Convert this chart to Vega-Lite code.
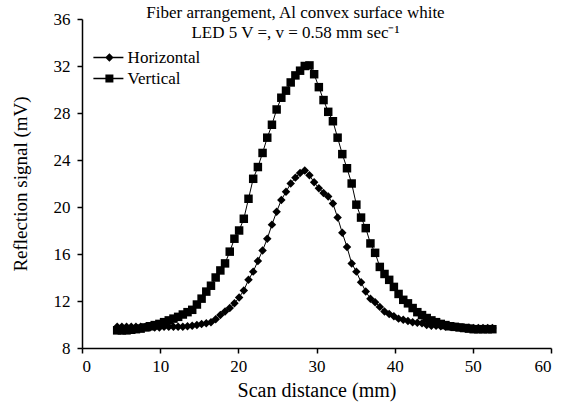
{
  "$schema": "https://vega.github.io/schema/vega-lite/v6.json",
  "width": 469,
  "height": 329,
  "autosize": {"type": "none"},
  "padding": {"left": 82, "top": 19, "right": 17, "bottom": 58},
  "background": "white",
  "config": {
    "view": {"stroke": null},
    "font": "Liberation Serif",
    "style": {
      "guide-label": {"font": "Liberation Serif"},
      "guide-title": {"font": "Liberation Serif"}
    },
    "legend": {"labelFont": "Liberation Serif"},
    "axis": {
      "grid": false,
      "domainColor": "black",
      "domainWidth": 1.5,
      "tickColor": "black",
      "tickWidth": 1.5,
      "tickSize": 5,
      "labelColor": "black",
      "labelFont": "Liberation Serif",
      "labelFontSize": 17,
      "titleColor": "black",
      "titleFont": "Liberation Serif",
      "titleFontWeight": "normal"
    }
  },
  "title": {
    "text": ["Fiber arrangement, Al convex surface white", "LED 5 V =, v = 0.58 mm sec⁻¹"],
    "anchor": "middle",
    "orient": "top",
    "offset": -32,
    "dx": -21,
    "font": "Liberation Serif",
    "fontSize": 17,
    "fontWeight": "normal",
    "color": "black",
    "lineHeight": 20
  },
  "datasets": {
    "scan": [
      {"series": "Horizontal", "x": 4.5, "y": 9.8},
      {"series": "Horizontal", "x": 5.1, "y": 9.8},
      {"series": "Horizontal", "x": 5.7, "y": 9.8},
      {"series": "Horizontal", "x": 6.3, "y": 9.8},
      {"series": "Horizontal", "x": 6.9, "y": 9.8},
      {"series": "Horizontal", "x": 7.5, "y": 9.8},
      {"series": "Horizontal", "x": 8.1, "y": 9.8},
      {"series": "Horizontal", "x": 8.7, "y": 9.75},
      {"series": "Horizontal", "x": 9.3, "y": 9.75},
      {"series": "Horizontal", "x": 9.9, "y": 9.75},
      {"series": "Horizontal", "x": 10.5, "y": 9.8},
      {"series": "Horizontal", "x": 11.1, "y": 9.8},
      {"series": "Horizontal", "x": 11.7, "y": 9.8},
      {"series": "Horizontal", "x": 12.3, "y": 9.8},
      {"series": "Horizontal", "x": 12.9, "y": 9.8},
      {"series": "Horizontal", "x": 13.5, "y": 9.85},
      {"series": "Horizontal", "x": 14.1, "y": 9.9},
      {"series": "Horizontal", "x": 14.7, "y": 9.95},
      {"series": "Horizontal", "x": 15.3, "y": 10.05},
      {"series": "Horizontal", "x": 15.9, "y": 10.1},
      {"series": "Horizontal", "x": 16.5, "y": 10.2},
      {"series": "Horizontal", "x": 17.1, "y": 10.45},
      {"series": "Horizontal", "x": 17.7, "y": 10.8},
      {"series": "Horizontal", "x": 18.3, "y": 11.1},
      {"series": "Horizontal", "x": 18.9, "y": 11.4},
      {"series": "Horizontal", "x": 19.5, "y": 11.8},
      {"series": "Horizontal", "x": 20.1, "y": 12.3},
      {"series": "Horizontal", "x": 20.7, "y": 12.9},
      {"series": "Horizontal", "x": 21.3, "y": 13.8},
      {"series": "Horizontal", "x": 21.9, "y": 14.5},
      {"series": "Horizontal", "x": 22.5, "y": 15.4},
      {"series": "Horizontal", "x": 23.1, "y": 16.3},
      {"series": "Horizontal", "x": 23.7, "y": 17.3},
      {"series": "Horizontal", "x": 24.3, "y": 18.5},
      {"series": "Horizontal", "x": 24.9, "y": 19.6},
      {"series": "Horizontal", "x": 25.5, "y": 20.6},
      {"series": "Horizontal", "x": 26.1, "y": 21.3},
      {"series": "Horizontal", "x": 26.7, "y": 22.0},
      {"series": "Horizontal", "x": 27.3, "y": 22.5},
      {"series": "Horizontal", "x": 27.9, "y": 22.9},
      {"series": "Horizontal", "x": 28.5, "y": 23.1},
      {"series": "Horizontal", "x": 29.1, "y": 22.7},
      {"series": "Horizontal", "x": 29.7, "y": 22.1},
      {"series": "Horizontal", "x": 30.3, "y": 21.6},
      {"series": "Horizontal", "x": 30.9, "y": 21.2},
      {"series": "Horizontal", "x": 31.5, "y": 20.9},
      {"series": "Horizontal", "x": 32.1, "y": 20.3},
      {"series": "Horizontal", "x": 32.7, "y": 19.1},
      {"series": "Horizontal", "x": 33.3, "y": 17.8},
      {"series": "Horizontal", "x": 33.9, "y": 16.6},
      {"series": "Horizontal", "x": 34.5, "y": 15.2},
      {"series": "Horizontal", "x": 35.1, "y": 14.5},
      {"series": "Horizontal", "x": 35.7, "y": 13.6},
      {"series": "Horizontal", "x": 36.3, "y": 12.8},
      {"series": "Horizontal", "x": 36.9, "y": 12.2},
      {"series": "Horizontal", "x": 37.5, "y": 11.9},
      {"series": "Horizontal", "x": 38.1, "y": 11.5},
      {"series": "Horizontal", "x": 38.7, "y": 11.1},
      {"series": "Horizontal", "x": 39.3, "y": 10.9},
      {"series": "Horizontal", "x": 39.9, "y": 10.7},
      {"series": "Horizontal", "x": 40.5, "y": 10.5},
      {"series": "Horizontal", "x": 41.1, "y": 10.4},
      {"series": "Horizontal", "x": 41.7, "y": 10.3},
      {"series": "Horizontal", "x": 42.3, "y": 10.2},
      {"series": "Horizontal", "x": 42.9, "y": 10.15},
      {"series": "Horizontal", "x": 43.5, "y": 10.1},
      {"series": "Horizontal", "x": 44.1, "y": 9.95},
      {"series": "Horizontal", "x": 44.7, "y": 9.9},
      {"series": "Horizontal", "x": 45.3, "y": 9.9},
      {"series": "Horizontal", "x": 45.9, "y": 9.85},
      {"series": "Horizontal", "x": 46.5, "y": 9.8},
      {"series": "Horizontal", "x": 47.1, "y": 9.8},
      {"series": "Horizontal", "x": 47.7, "y": 9.8},
      {"series": "Horizontal", "x": 48.3, "y": 9.75},
      {"series": "Horizontal", "x": 48.9, "y": 9.75},
      {"series": "Horizontal", "x": 49.5, "y": 9.75},
      {"series": "Horizontal", "x": 50.1, "y": 9.7},
      {"series": "Horizontal", "x": 50.7, "y": 9.7},
      {"series": "Horizontal", "x": 51.3, "y": 9.7},
      {"series": "Horizontal", "x": 51.9, "y": 9.7},
      {"series": "Horizontal", "x": 52.5, "y": 9.7},
      {"series": "Vertical", "x": 4.5, "y": 9.5},
      {"series": "Vertical", "x": 5.1, "y": 9.5},
      {"series": "Vertical", "x": 5.7, "y": 9.5},
      {"series": "Vertical", "x": 6.3, "y": 9.55},
      {"series": "Vertical", "x": 6.9, "y": 9.6},
      {"series": "Vertical", "x": 7.5, "y": 9.65},
      {"series": "Vertical", "x": 8.1, "y": 9.75},
      {"series": "Vertical", "x": 8.7, "y": 9.85},
      {"series": "Vertical", "x": 9.3, "y": 9.95},
      {"series": "Vertical", "x": 9.9, "y": 10.05},
      {"series": "Vertical", "x": 10.5, "y": 10.2},
      {"series": "Vertical", "x": 11.1, "y": 10.35},
      {"series": "Vertical", "x": 11.7, "y": 10.5},
      {"series": "Vertical", "x": 12.3, "y": 10.65},
      {"series": "Vertical", "x": 12.9, "y": 10.85},
      {"series": "Vertical", "x": 13.5, "y": 11.05},
      {"series": "Vertical", "x": 14.1, "y": 11.25},
      {"series": "Vertical", "x": 14.7, "y": 11.7},
      {"series": "Vertical", "x": 15.3, "y": 12.2},
      {"series": "Vertical", "x": 15.9, "y": 12.8},
      {"series": "Vertical", "x": 16.5, "y": 13.3},
      {"series": "Vertical", "x": 17.1, "y": 14.0},
      {"series": "Vertical", "x": 17.7, "y": 14.6},
      {"series": "Vertical", "x": 18.3, "y": 15.2},
      {"series": "Vertical", "x": 18.9, "y": 16.2},
      {"series": "Vertical", "x": 19.5, "y": 17.3},
      {"series": "Vertical", "x": 20.1, "y": 18.0},
      {"series": "Vertical", "x": 20.7, "y": 19.0},
      {"series": "Vertical", "x": 21.3, "y": 20.7},
      {"series": "Vertical", "x": 21.9, "y": 22.4},
      {"series": "Vertical", "x": 22.5, "y": 23.4},
      {"series": "Vertical", "x": 23.1, "y": 24.6},
      {"series": "Vertical", "x": 23.7, "y": 25.9},
      {"series": "Vertical", "x": 24.3, "y": 27.0},
      {"series": "Vertical", "x": 24.9, "y": 28.3},
      {"series": "Vertical", "x": 25.5, "y": 29.3},
      {"series": "Vertical", "x": 26.1, "y": 29.9},
      {"series": "Vertical", "x": 26.7, "y": 30.6},
      {"series": "Vertical", "x": 27.3, "y": 31.2},
      {"series": "Vertical", "x": 27.9, "y": 31.6},
      {"series": "Vertical", "x": 28.5, "y": 32.0},
      {"series": "Vertical", "x": 29.1, "y": 32.05},
      {"series": "Vertical", "x": 29.7, "y": 31.3},
      {"series": "Vertical", "x": 30.3, "y": 30.2},
      {"series": "Vertical", "x": 30.9, "y": 29.1},
      {"series": "Vertical", "x": 31.5, "y": 28.1},
      {"series": "Vertical", "x": 32.1, "y": 27.3},
      {"series": "Vertical", "x": 32.7, "y": 25.9},
      {"series": "Vertical", "x": 33.3, "y": 24.5},
      {"series": "Vertical", "x": 33.9, "y": 23.3},
      {"series": "Vertical", "x": 34.5, "y": 22.0},
      {"series": "Vertical", "x": 35.1, "y": 20.2},
      {"series": "Vertical", "x": 35.7, "y": 19.1},
      {"series": "Vertical", "x": 36.3, "y": 18.2},
      {"series": "Vertical", "x": 36.9, "y": 16.9},
      {"series": "Vertical", "x": 37.5, "y": 16.1},
      {"series": "Vertical", "x": 38.1, "y": 14.9},
      {"series": "Vertical", "x": 38.7, "y": 14.3},
      {"series": "Vertical", "x": 39.3, "y": 13.8},
      {"series": "Vertical", "x": 39.9, "y": 13.2},
      {"series": "Vertical", "x": 40.5, "y": 12.6},
      {"series": "Vertical", "x": 41.1, "y": 12.1},
      {"series": "Vertical", "x": 41.7, "y": 11.8},
      {"series": "Vertical", "x": 42.3, "y": 11.4},
      {"series": "Vertical", "x": 42.9, "y": 11.05},
      {"series": "Vertical", "x": 43.5, "y": 10.8},
      {"series": "Vertical", "x": 44.1, "y": 10.55},
      {"series": "Vertical", "x": 44.7, "y": 10.35},
      {"series": "Vertical", "x": 45.3, "y": 10.2},
      {"series": "Vertical", "x": 45.9, "y": 10.05},
      {"series": "Vertical", "x": 46.5, "y": 9.95},
      {"series": "Vertical", "x": 47.1, "y": 9.85},
      {"series": "Vertical", "x": 47.7, "y": 9.8},
      {"series": "Vertical", "x": 48.3, "y": 9.75},
      {"series": "Vertical", "x": 48.9, "y": 9.7},
      {"series": "Vertical", "x": 49.5, "y": 9.65},
      {"series": "Vertical", "x": 50.1, "y": 9.6},
      {"series": "Vertical", "x": 50.7, "y": 9.6},
      {"series": "Vertical", "x": 51.3, "y": 9.6},
      {"series": "Vertical", "x": 51.9, "y": 9.6},
      {"series": "Vertical", "x": 52.5, "y": 9.6}
    ]
  },
  "data": {"name": "scan"},
  "layer": [
    {
      "mark": {"type": "line", "color": "black", "strokeWidth": 1},
      "encoding": {
        "x": {"field": "x", "type": "quantitative", "scale": {"domain": [0, 60]},
          "axis": {"title": "Scan distance (mm)", "values": [0, 10, 20, 30, 40, 50, 60], "labelFont": "Liberation Serif", "titleFont": "Liberation Serif", "labelPadding": 5, "titlePadding": 6, "titleFontSize": 20}},
        "y": {"field": "y", "type": "quantitative", "scale": {"domain": [8, 36]},
          "axis": {"title": "Reflection signal (mV)", "values": [8, 12, 16, 20, 24, 28, 32, 36], "labelFont": "Liberation Serif", "titleFont": "Liberation Serif", "labelPadding": 7, "titlePadding": 23, "titleFontSize": 19}},
        "detail": {"field": "series"}
      }
    },
    {
      "mark": {"type": "point", "filled": true, "color": "black", "opacity": 1, "size": 72},
      "encoding": {
        "x": {"field": "x", "type": "quantitative"},
        "y": {"field": "y", "type": "quantitative"},
        "shape": {
          "field": "series", "type": "nominal",
          "scale": {"domain": ["Horizontal", "Vertical"], "range": ["diamond", "square"]},
          "legend": null
        }
      }
    },
    {
      "transform": [{"filter": "false"}],
      "mark": {"type": "point", "filled": true, "color": "black", "opacity": 1},
      "encoding": {
        "x": {"field": "x", "type": "quantitative"},
        "y": {"field": "y", "type": "quantitative"},
        "shape": {
          "field": "series", "type": "nominal",
          "scale": {
            "domain": ["Horizontal", "Vertical"],
            "range": ["M-3,-0.13H3V0.13H-3ZM0.2,-0.85L1.05,0L0.2,0.85L-0.65,0Z", "M-3,-0.13H3V0.13H-3ZM-0.6,-0.8H1V0.8H-0.6Z"]
          },
          "legend": {
            "title": null,
            "orient": "none",
            "legendX": 17.9,
            "legendY": 30,
            "padding": 0,
            "symbolSize": 100,
            "symbolFillColor": "black",
            "symbolStrokeWidth": 0,
            "symbolOpacity": 1,
            "labelFont": "Liberation Serif",
            "labelFontSize": 17,
            "labelColor": "black",
            "labelOffset": 10.7,
            "rowPadding": 3
          }
        }
      }
    }
  ],
  "resolve": {"scale": {"shape": "independent"}}
}
